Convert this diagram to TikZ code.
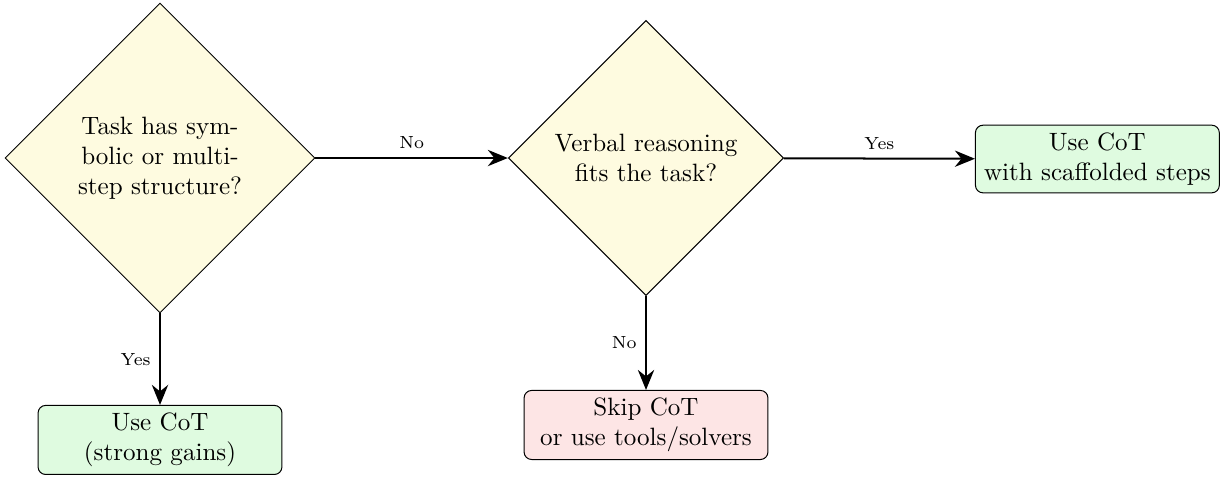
\documentclass[tikz,border=0pt]{standalone}
\usepackage{amsmath}
\usepackage{xcolor}
\usepackage{tikz}
\usetikzlibrary{shapes.geometric,arrows.meta}

\definecolor{decfill}{HTML}{FEFBE0}
\definecolor{goodfill}{HTML}{DFFBE0}
\definecolor{badfill}{HTML}{FDE5E5}

\begin{document}
\begin{tikzpicture}[
		decision/.style={diamond, draw, fill=decfill, aspect=1, text width=2.6cm, align=center, inner sep=4.2pt},
		outcome/.style={rectangle, rounded corners=3pt, draw, minimum width=3.42cm, align=center, inner sep=3pt},
		flow/.style={-{Stealth[length=8pt,width=6.5pt]}, thick},
		tag/.style={font=\scriptsize}
	]
			\useasboundingbox (0,0) rectangle (17.18,-6.69);

			\node[decision] (symbolic) at (2.244,-2.216) {Task has sym-\\bolic or multi-\\step structure?};
			\node[decision] (verbal) at (9.06,-2.216) {Verbal reasoning\\fits the task?};

			\node[outcome, fill=goodfill] (scaffold) at (15.39,-2.23) {Use CoT\\with scaffolded steps};
			\node[outcome, fill=goodfill] (gains) at (2.244,-6.17) {Use CoT\\(strong gains)};
			\node[outcome, fill=badfill] (skip) at (9.06,-5.96) {Skip CoT\\or use tools/solvers};

			\draw[flow] (symbolic) -- node[tag, midway, above] {No} (verbal);
			\draw[flow] (verbal) -- node[tag, midway, above] {Yes} (scaffold);
			\draw[flow] (symbolic) -- node[tag, midway, left] {Yes} (gains);
			\draw[flow] (verbal) -- node[tag, midway, left] {No} (skip);
		\end{tikzpicture}
\end{document}
